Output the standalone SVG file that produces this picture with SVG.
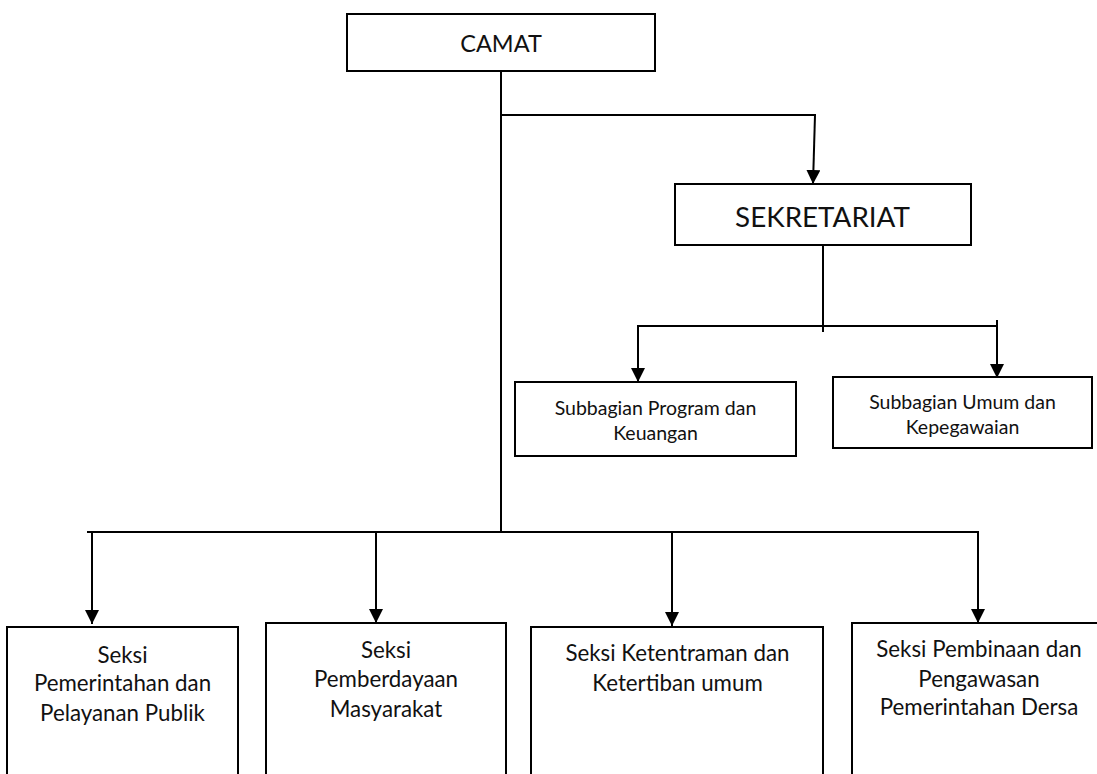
<svg xmlns="http://www.w3.org/2000/svg" width="1097" height="774" viewBox="0 0 1097 774">
  <defs>
    <style>
      .box { fill: #ffffff; stroke: #000000; stroke-width: 2; }
      .line { fill: none; stroke: #000000; stroke-width: 2; }
      .arrow { fill: none; stroke: #000000; stroke-width: 2; marker-end: url(#ah); }
      text { font-family: Lato, "Open Sans", "Liberation Sans", sans-serif; fill: #111111; text-anchor: middle; }
      .t1 { font-size: 23.5px; }
      .t2 { font-size: 27.8px; }
      .t3 { font-size: 19.5px; }
      .t4 { font-size: 22.3px; }
    </style>
    <marker id="ah" markerUnits="userSpaceOnUse" markerWidth="14" markerHeight="14" refX="14" refY="7" orient="auto" viewBox="0 0 14 14">
      <path d="M0,0 L14,7 L0,14 z" fill="#000000"/>
    </marker>
  </defs>
  <rect width="1097" height="774" fill="#ffffff"/>

  <g id="connectors">
    <path class="line" d="M501,71 L501,533"/>
    <path class="line" d="M500,115 L816,115"/>
    <path class="arrow" d="M815,115 L813,184"/>
    <path class="line" d="M823,245 L823,332"/>
    <path class="line" d="M638,326 L998,326"/>
    <path class="arrow" d="M638,325 L638,382"/>
    <path class="arrow" d="M997,320 L997,378"/>
    <path class="line" d="M87,532 L979,532"/>
    <path class="arrow" d="M92,531 L92,624"/>
    <path class="arrow" d="M376,531 L376,623"/>
    <path class="arrow" d="M672,531 L672,626"/>
    <path class="arrow" d="M978,531 L978,623"/>
  </g>

  <g id="camat">
    <rect class="box" x="347" y="14" width="308" height="57"/>
    <text class="t1" x="501" y="52">CAMAT</text>
  </g>

  <g id="sekretariat">
    <rect class="box" x="675" y="184" width="296" height="61"/>
    <text class="t2" x="822.5" y="227">SEKRETARIAT</text>
  </g>

  <g id="subbagian-program">
    <rect class="box" x="515" y="382" width="281" height="74"/>
    <text class="t3" x="655.5" y="415">Subbagian Program dan</text>
    <text class="t3" x="655.5" y="440">Keuangan</text>
  </g>

  <g id="subbagian-umum">
    <rect class="box" x="833" y="377" width="259" height="71"/>
    <text class="t3" x="962.5" y="409">Subbagian Umum dan</text>
    <text class="t3" x="962.5" y="434">Kepegawaian</text>
  </g>

  <g id="seksi-pemerintahan">
    <rect class="box" x="7" y="627" width="231" height="170"/>
    <text class="t4" x="122.5" y="662.5">Seksi</text>
    <text class="t4" x="122.5" y="691">Pemerintahan dan</text>
    <text class="t4" x="122.5" y="720.5">Pelayanan Publik</text>
  </g>

  <g id="seksi-pemberdayaan">
    <rect class="box" x="266" y="623" width="240" height="174"/>
    <text class="t4" x="386" y="658">Seksi</text>
    <text class="t4" x="386" y="687">Pemberdayaan</text>
    <text class="t4" x="386" y="717">Masyarakat</text>
  </g>

  <g id="seksi-ketentraman">
    <rect class="box" x="531" y="627" width="292" height="170"/>
    <text class="t4" x="677.5" y="661">Seksi Ketentraman dan</text>
    <text class="t4" x="677.5" y="690.5">Ketertiban umum</text>
  </g>

  <g id="seksi-pembinaan">
    <rect class="box" x="852" y="623" width="254" height="174"/>
    <text class="t4" x="979" y="657">Seksi Pembinaan dan</text>
    <text class="t4" x="979" y="686.5">Pengawasan</text>
    <text class="t4" x="979" y="715">Pemerintahan Dersa</text>
  </g>
</svg>
